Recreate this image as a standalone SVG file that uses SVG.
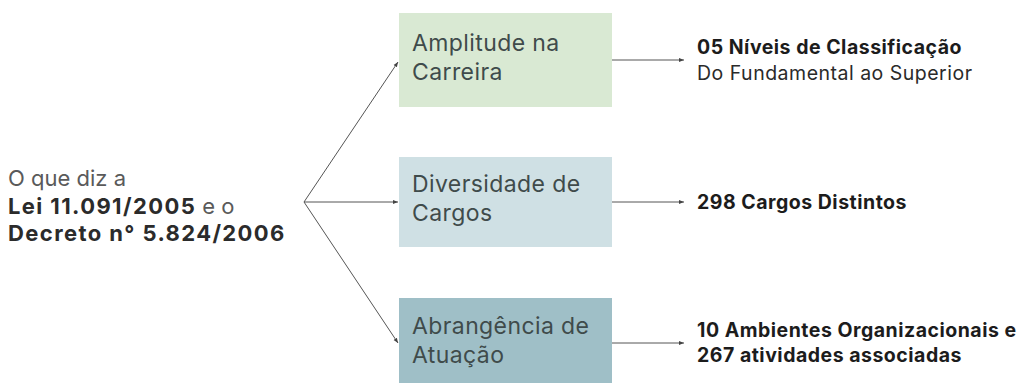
<svg xmlns="http://www.w3.org/2000/svg" width="1021" height="383" viewBox="0 0 1021 383">
<defs>
<marker id="ah" viewBox="0 0 10 10" refX="10" refY="5" markerWidth="5" markerHeight="5" orient="auto" markerUnits="userSpaceOnUse">
<path d="M0,1 L10,5 L0,9 Z" fill="#444"/>
</marker>
<style>
.t{font-family:Inter,"Open Sans",sans-serif;}
.box{font-size:23px;fill:#3f4b4b;letter-spacing:0.4px;}
.lt{font-size:22px;fill:#5a5a5a;}
.lb{font-size:22px;font-weight:700;fill:#2b2b2b;letter-spacing:1.4px;}
.rb{font-size:19.5px;font-weight:700;fill:#1c1c1c;letter-spacing:0.5px;}
.rn{font-size:19.5px;fill:#2a2a2a;letter-spacing:0.5px;}
.c{stroke:#555;stroke-width:1;fill:none;marker-end:url(#ah);}
</style>
</defs>
<rect width="1021" height="383" fill="#ffffff"/>
<g id="source">
<text class="t lt" x="8" y="186">O que diz a</text>
<text class="t" x="8" y="213.5"><tspan class="lb">Lei 11.091/2005</tspan><tspan class="lt"> e o</tspan></text>
<text class="t lb" x="8" y="241">Decreto n° 5.824/2006</text>
</g>
<g id="n1">
<rect x="399" y="13" width="213" height="94" fill="#d9e9d3"/>
<text class="t box" x="412" y="51">Amplitude na</text>
<text class="t box" x="412" y="80">Carreira</text>
</g>
<g id="n2">
<rect x="399" y="157" width="213" height="90" fill="#cfe0e4"/>
<text class="t box" x="412" y="192">Diversidade de</text>
<text class="t box" x="412" y="221">Cargos</text>
</g>
<g id="n3">
<rect x="399" y="298" width="213" height="85" fill="#9fbfc7"/>
<text class="t box" x="412" y="334">Abrangência de</text>
<text class="t box" x="412" y="363">Atuação</text>
</g>
<g id="r1">
<text class="t rb" x="697" y="54">05 Níveis de Classificação</text>
<text class="t rn" x="697" y="80">Do Fundamental ao Superior</text>
</g>
<g id="r2">
<text class="t rb" x="697" y="209">298 Cargos Distintos</text>
</g>
<g id="r3">
<text class="t rb" x="697" y="337">10 Ambientes Organizacionais e</text>
<text class="t rb" x="697" y="362">267 atividades associadas</text>
</g>
<g id="connectors">
<path class="c" d="M304,202 L398,62"/>
<path class="c" d="M304,202 L398,202"/>
<path class="c" d="M304,202 L398,343"/>
<path class="c" d="M612,60 L684,60"/>
<path class="c" d="M612,202 L684,202"/>
<path class="c" d="M612,343 L684,343"/>
</g>
</svg>
